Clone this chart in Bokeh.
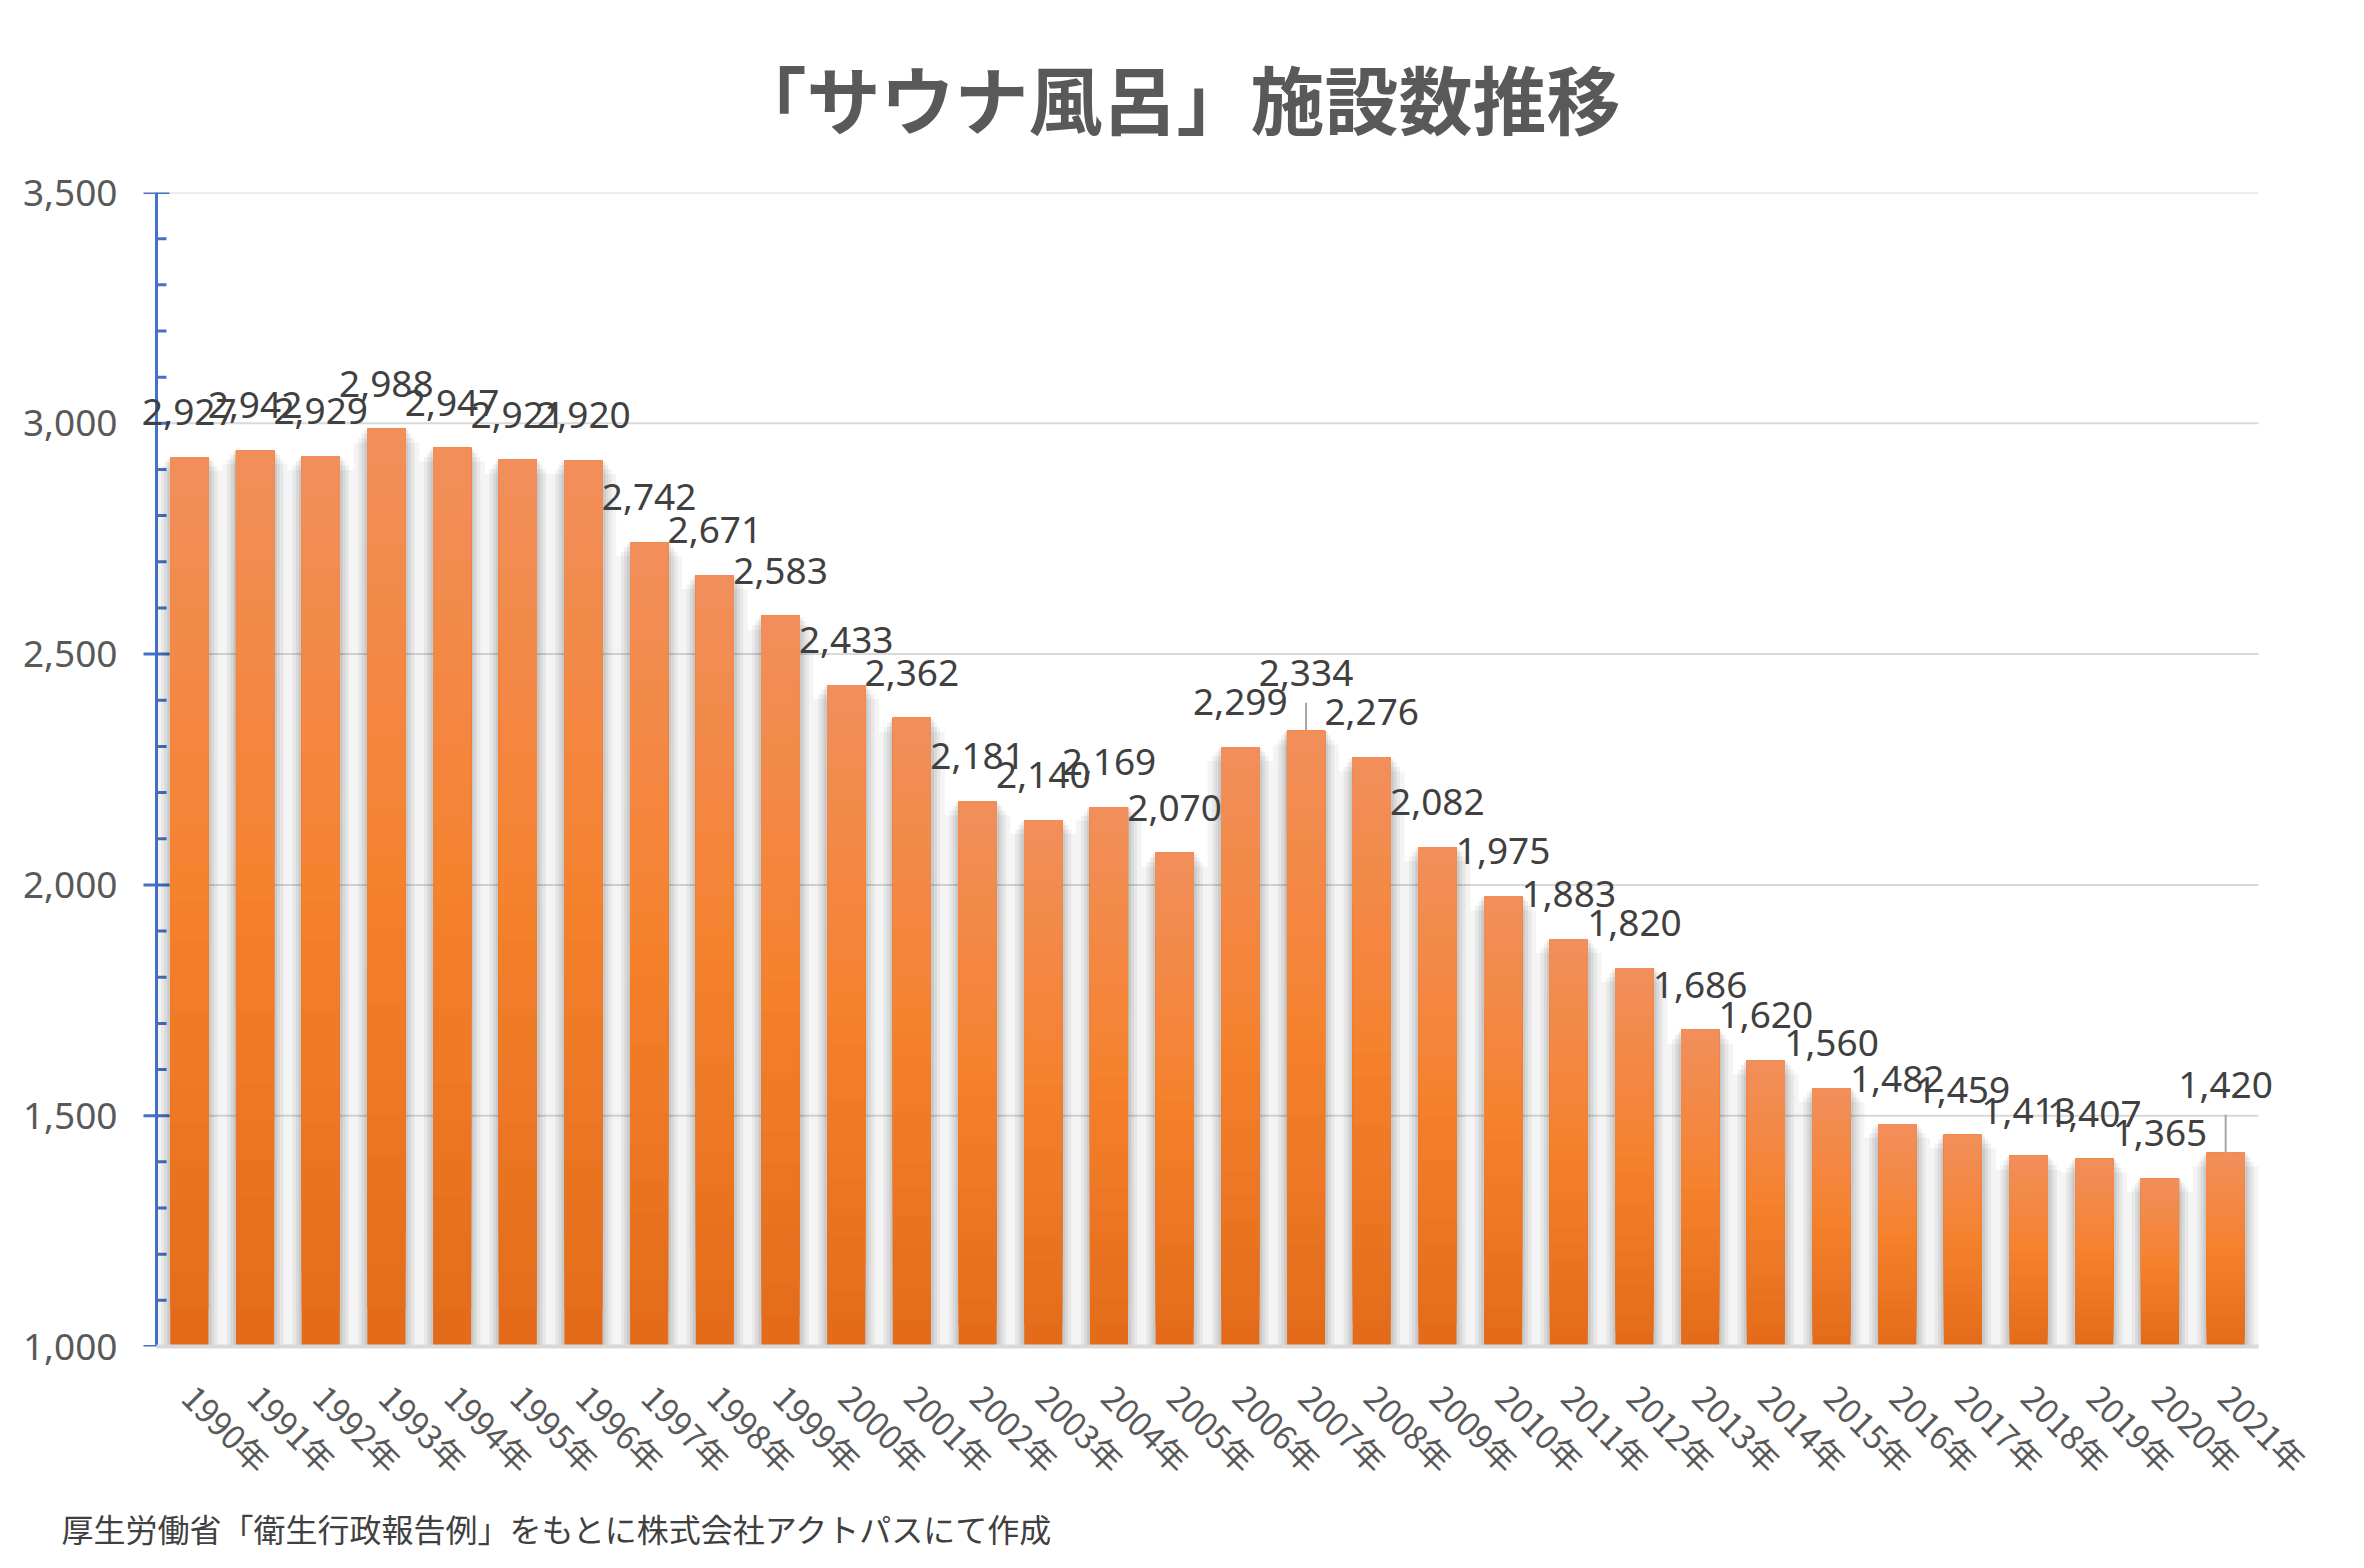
import math
import numpy as np
from bokeh.plotting import figure
from bokeh.models import ColumnDataSource, LabelSet, Title, NumeralTickFormatter, FixedTicker, FactorRange, Range1d
from bokeh.embed import file_html
from bokeh.resources import INLINE
from bokeh.core.properties import value

# ---------------- data ----------------
years = ["1990年", "1991年", "1992年", "1993年", "1994年", "1995年", "1996年", "1997年",
         "1998年", "1999年", "2000年", "2001年", "2002年", "2003年", "2004年", "2005年",
         "2006年", "2007年", "2008年", "2009年", "2010年", "2011年", "2012年", "2013年",
         "2014年", "2015年", "2016年", "2017年", "2018年", "2019年", "2020年", "2021年"]
counts = [2927, 2942, 2929, 2988, 2947, 2921, 2920, 2742, 2671, 2583, 2433, 2362,
          2181, 2140, 2169, 2070, 2299, 2334, 2276, 2082, 1975, 1883, 1820, 1686,
          1620, 1560, 1482, 1459, 1413, 1407, 1365, 1420]
y_ticks = [1000, 1500, 2000, 2500, 3000, 3500]
y_minor = [1100, 1200, 1300, 1400, 1600, 1700, 1800, 1900, 2100, 2200, 2300, 2400,
           2600, 2700, 2800, 2900, 3100, 3200, 3300, 3400]
title_text = "「サウナ風呂」施設数推移"
source_text = "厚生労働省「衛生行政報告例」をもとに株式会社アクトパスにて作成"

# ---------------- style ----------------
W, H = 2348, 1552
AX_LEFT, AX_RIGHT = 156, 2258          # visible axis extent (px)
AX_TOP, AX_BOTTOM = 192, 1346
EDGE_PAD = 16                           # extra frame room so edge labels are not clipped
Y0, Y1 = 1000, 3500
FRAME_H = AX_BOTTOM - AX_TOP
PX_PER_UNIT = FRAME_H / (Y1 - Y0)
STEP = (AX_RIGHT - AX_LEFT) / len(years)
XPAD = EDGE_PAD / STEP
BAR_W = 0.58
AXIS_BLUE = "#4472C4"
label_gap_px = 45
callouts = {"2007年": 58, "2021年": 68}   # labels lifted with leader lines

p = figure(width=W, height=H,
           x_range=FactorRange(factors=years, range_padding=XPAD, range_padding_units="absolute"),
           y_range=Range1d(Y0, Y1),
           output_backend="svg", toolbar_location=None,
           min_border_left=AX_LEFT - EDGE_PAD, min_border_right=W - AX_RIGHT - EDGE_PAD,
           min_border_top=AX_TOP, min_border_bottom=H - AX_BOTTOM)
p.outline_line_color = None
p.background_fill_color = "white"
p.border_fill_color = "white"

# title (above) and source note (below)
p.add_layout(Title(text=title_text, align="left", offset=592, vertical_align="top",
                   text_font="Noto Sans CJK JP", text_font_size="74px", text_font_style="bold",
                   text_color="#595959", standoff=82), "above")
p.add_layout(Title(text=source_text, align="left", offset=61 - (AX_LEFT - EDGE_PAD),
                   text_font="Noto Sans CJK JP", text_font_size="32px",
                   text_font_style="normal", text_color="#404040", standoff=0), "below")

# horizontal grid lines spanning the category band only
p.xgrid.visible = False
p.ygrid.visible = False
n = len(years)
p.segment(x0=0, x1=n, y0=y_ticks, y1=y_ticks, line_color="#D9D9D9", line_width=2)

# y axis: labels from the axis model, line + ticks drawn at the start of the category band
p.yaxis.ticker = FixedTicker(ticks=y_ticks)
p.yaxis.formatter = NumeralTickFormatter(format="0,0")
p.yaxis.axis_line_color = None
p.yaxis.major_tick_line_color = None
p.yaxis.minor_tick_line_color = None
p.yaxis.major_tick_in = 0
p.yaxis.major_tick_out = 0
p.yaxis.major_label_text_font = "Noto Sans"
p.yaxis.major_label_text_font_size = "37px"
p.yaxis.major_label_text_color = "#595959"
p.yaxis.major_label_standoff = (AX_LEFT - EDGE_PAD) - (AX_LEFT - 39)

maj_out, maj_in, min_in = 13 / STEP, 13 / STEP, 10 / STEP
p.segment(x0=0, x1=0, y0=Y0, y1=Y1, line_color=AXIS_BLUE, line_width=3)
p.segment(x0=-maj_out, x1=maj_in, y0=y_ticks, y1=y_ticks, line_color=AXIS_BLUE, line_width=3)
p.segment(x0=0, x1=min_in, y0=y_minor, y1=y_minor, line_color=AXIS_BLUE, line_width=3)

# x axis
p.xaxis.bounds = (0, n)
p.xaxis.axis_line_color = "#D9D9D9"
p.xaxis.axis_line_width = 4
p.xaxis.major_tick_line_color = None
p.xaxis.minor_tick_line_color = None
p.xaxis.major_label_orientation = -math.pi / 4
p.xaxis.major_label_text_font = "Noto Sans CJK JP"
p.xaxis.major_label_text_font_size = "33px"
p.xaxis.major_label_text_color = "#595959"
p.xaxis.major_label_standoff = 38

# soft shadows behind bars
shadow_layers = [(1.00, 0.045, 30), (0.86, 0.05, 20), (0.76, 0.06, 10), (0.67, 0.07, 3)]
for w, a, drop in shadow_layers:
    p.vbar(x=years, width=w, bottom=Y0, top=[c - drop for c in counts],
           fill_color="#000000", fill_alpha=a, line_color=None)

# main bars
bars_src = ColumnDataSource(dict(x=years, top=counts))
p.vbar(x="x", width=BAR_W, bottom=Y0, top="top", source=bars_src,
       fill_color="#E36B19", line_color=None)

# vertical gradient overlay (top salmon -> bright orange -> darker bottom)
stops = [(0.0, (241, 143, 92)), (0.5, (245, 129, 45)), (1.0, (227, 107, 25))]
def grad(s):
    for (s0, c0), (s1, c1) in zip(stops[:-1], stops[1:]):
        if s <= s1:
            t = (s - s0) / (s1 - s0)
            return "#%02x%02x%02x" % tuple(int(round(c0[i] + (c1[i] - c0[i]) * t)) for i in range(3))
    return "#%02x%02x%02x" % stops[-1][1]

N = 24
cvals = np.array(counts, dtype=float)
for k in range(1, N):
    frac = k / N
    bottoms = Y0 + (cvals - Y0) * frac
    s = 1.0 - (k + 0.5) / N
    p.vbar(x=years, width=BAR_W, bottom=list(bottoms), top=counts,
           fill_color=grad(s), line_color=None)

# leader lines for lifted labels
lx, ly0, ly1 = [], [], []
for yr, c in zip(years, counts):
    if yr in callouts:
        lx.append(yr)
        ly0.append(c)
        ly1.append(c + (callouts[yr] - 30) / PX_PER_UNIT)
p.segment(x0=lx, y0=ly0, x1=lx, y1=ly1, line_color="#A6A6A6", line_width=2)

# data labels
lab_src = ColumnDataSource(dict(
    x=years, y=counts,
    txt=[f"{c:,}" for c in counts],
    yoff=[callouts.get(yr, label_gap_px) for yr in years]))
p.add_layout(LabelSet(x="x", y="y", text="txt", source=lab_src, y_offset="yoff",
                      text_align="center", text_baseline="middle",
                      text_font=value("Noto Sans"), text_font_size="37px",
                      text_color="#404040"))

open("out.html", "w").write(file_html(p, INLINE))
